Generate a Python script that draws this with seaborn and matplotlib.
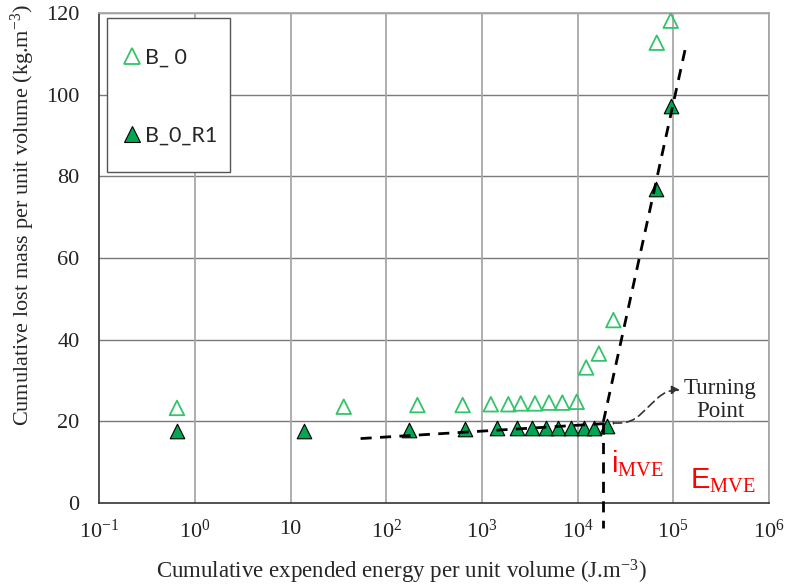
import numpy as np
import pandas as pd
import matplotlib
matplotlib.use("Agg")
import matplotlib.pyplot as plt
import seaborn as sns
from matplotlib.lines import Line2D
from matplotlib.patches import Rectangle
from matplotlib.ticker import FixedLocator, LogLocator, NullFormatter, MultipleLocator

# data
b0_energy = [0.65, 36, 212, 630, 1240, 1890, 2550, 3590, 5030, 6930, 9800,
             12300, 16700, 23700, 67300, 94200]
b0_mass = [23.3, 23.6, 24.0, 24.0, 24.2, 24.2, 24.4, 24.4, 24.6, 24.6, 24.8,
           33.2, 36.6, 44.8, 112.7, 118.1]

r1_energy = [0.65, 14, 175, 667, 1450, 2320, 3370, 4650, 6310, 8550, 11700,
             15000, 20200, 66100, 94200]
r1_mass = [17.6, 17.6, 18.0, 18.1, 18.3, 18.3, 18.4, 18.4, 18.4, 18.4, 18.5,
           18.5, 18.9, 76.9, 97.2]

# fitted trend lines (dashed)
flat_x = [54, 24000]
flat_y = [15.8, 19.6]
steep_x = [18600, 132800]
steep_y = [19.9, 110.9]
i_mve = 18600

x_ticks = [1e-1, 1e0, 1e1, 1e2, 1e3, 1e4, 1e5, 1e6]
x_ticklabels = [r'$\mathregular{10^{-1}}$', r'$\mathregular{10^{0}}$', '10',
                r'$\mathregular{10^{2}}$', r'$\mathregular{10^{3}}$',
                r'$\mathregular{10^{4}}$', r'$\mathregular{10^{5}}$',
                r'$\mathregular{10^{6}}$']
legend_labels = ['B_ 0', 'B_0_R1']

sns.set_style("white")
plt.rcParams['font.family'] = ['Liberation Serif', 'DejaVu Serif']
plt.rcParams['mathtext.fontset'] = 'custom'
plt.rcParams['mathtext.rm'] = 'Liberation Serif'
plt.rcParams['mathtext.sf'] = 'Liberation Sans'

open_green = '#33c46a'
fill_green = '#00a651'

fig, ax = plt.subplots(figsize=(7.87, 5.85), dpi=100)
fig.subplots_adjust(left=0.126, right=0.977, top=0.978, bottom=0.140)

ax.set_xscale('log')
ax.set_xlim(1e-1, 1e6)
ax.set_ylim(0, 120)

# grid
for yv in range(20, 121, 20):
    ax.axhline(yv, color='#7a7a7a', lw=1.0, zorder=0)
for xv in x_ticks[1:]:
    ax.axvline(xv, color='#a8a8a8', lw=1.3, zorder=0)

df0 = pd.DataFrame({'energy': b0_energy, 'mass': b0_mass})
df1 = pd.DataFrame({'energy': r1_energy, 'mass': r1_mass})

sns.scatterplot(data=df0, x='energy', y='mass', ax=ax, marker='^', s=110,
                color=open_green, facecolor='none', edgecolor=open_green,
                linewidth=1.3, zorder=3)
sns.scatterplot(data=df1, x='energy', y='mass', ax=ax, marker='^', s=110,
                color=fill_green, edgecolor='black', linewidth=0.8, zorder=4)

ax.plot(flat_x, flat_y, color='black', ls=(0, (4, 3)), lw=2, zorder=5)
ax.plot(steep_x, steep_y, color='black', ls=(0, (4, 3)), lw=2, zorder=5)
ax.plot([i_mve, i_mve], [19.6, -6], color='black', ls=(0, (4, 3)), lw=2,
        zorder=5, clip_on=False)

# turning point annotation
ax.annotate('', xy=(118000, 27.7), xytext=(23700, 19.6),
            arrowprops=dict(arrowstyle='-|>', color='#333333', lw=1.2, ls=(0, (5, 3)),
                            connectionstyle='arc,angleA=0,angleB=180,armA=18,armB=14,rad=12',
                            shrinkA=0, shrinkB=0, mutation_scale=12),
            zorder=6)
ax.text(310000, 25.3, 'Turning\nPoint', ha='center', va='center', fontsize=16.5,
        linespacing=1.15)

ax.text(22500, 9.6, r'$\mathsf{i}_{\mathrm{MVE}}$', color='red', fontsize=21,
        ha='left', va='center')
ax.text(150000, 5.4, r'$\mathsf{E}_{\mathrm{MVE}}$', color='red', fontsize=21,
        ha='left', va='center')

# axes and ticks
ax.xaxis.set_major_locator(FixedLocator(x_ticks))
ax.set_xticklabels(x_ticklabels)
ax.xaxis.set_minor_locator(LogLocator(base=10, subs=np.arange(2, 10), numticks=20))
ax.xaxis.set_minor_formatter(NullFormatter())
ax.yaxis.set_major_locator(MultipleLocator(20))
ax.yaxis.set_minor_locator(MultipleLocator(10))
ax.tick_params(axis='both', which='major', direction='out', length=5, width=1,
               labelsize=16, colors='#222222')
ax.tick_params(axis='both', which='minor', direction='out', length=3.5, width=1,
               colors='#222222')
ax.tick_params(axis='x', which='major', pad=7)
ax.tick_params(axis='y', which='major', pad=9)

for side in ['left', 'bottom']:
    ax.spines[side].set_color('#333333')
    ax.spines[side].set_linewidth(1.2)
for side in ['top', 'right']:
    ax.spines[side].set_color('#a8a8a8')
    ax.spines[side].set_linewidth(1.3)

ax.set_xlabel(r'Cumulative expended energy per unit volume (J.m$\mathregular{^{-3}}$)',
              fontsize=16.5)
ax.set_ylabel(r'Cumulative lost mass per unit volume (kg.m$\mathregular{^{-3}}$)',
              fontsize=16)
ax.xaxis.set_label_coords(0.452, -0.112)
ax.yaxis.set_label_coords(-0.0925, 0.587)

# legend: frame drawn as a plain box, entries placed inside it
ax.add_patch(Rectangle((0.012, 0.675), 0.1836, 0.314, transform=ax.transAxes,
                       facecolor='white', edgecolor='#555555', lw=1.0, zorder=7))
handles = [
    Line2D([], [], marker='^', ls='none', markersize=11, markerfacecolor='none',
           markeredgecolor=open_green, markeredgewidth=1.3),
    Line2D([], [], marker='^', ls='none', markersize=11, markerfacecolor=fill_green,
           markeredgecolor='black', markeredgewidth=0.8),
]
leg = ax.legend(handles, legend_labels, loc='center left',
                bbox_to_anchor=(0.033, 0.829), frameon=False,
                prop={'family': 'Lato', 'size': 15.5}, labelspacing=2.71,
                borderpad=0, handletextpad=0.12, handlelength=1.0,
                borderaxespad=0)
leg.set_zorder(8)

fig.savefig('out.png', dpi=100)
